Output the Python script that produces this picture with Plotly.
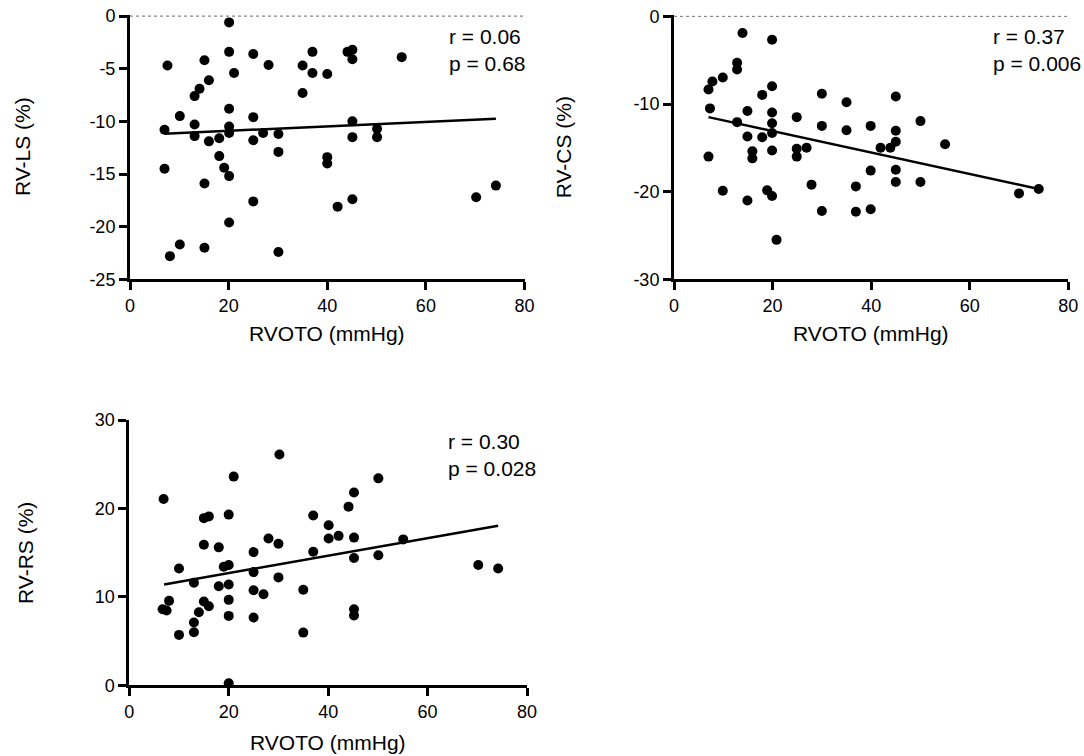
import plotly.graph_objects as go

# ---------------- data ----------------
ls_x = [7.6, 7.0, 7.0, 8.1, 10.1, 10.1, 13.1, 14.1, 13.1, 13.1, 15.1, 16.0, 15.1, 15.1, 16.0,
        18.1, 18.1, 19.1, 20.1, 20.1, 20.1, 20.1, 20.1, 20.1, 21.1, 20.1, 25.0, 25.0, 25.0, 25.0,
        27.0, 28.1, 30.1, 30.1, 30.1, 35.0, 35.0, 37.0, 37.0, 40.0, 40.0, 40.0, 42.1, 44.1, 45.1,
        45.1, 45.1, 45.1, 45.1, 50.1, 50.1, 55.1, 70.2, 74.2]
ls_y = [-4.7, -10.8, -14.5, -22.8, -9.5, -21.7, -7.6, -6.9, -10.3, -11.4, -4.2, -6.1, -15.9, -22.0, -11.9,
        -11.6, -13.3, -14.4, -15.2, -0.6, -3.4, -8.8, -10.5, -11.1, -5.4, -19.6, -3.6, -9.6, -11.8, -17.6,
        -11.1, -4.65, -11.2, -12.9, -22.4, -4.7, -7.3, -3.4, -5.4, -5.5, -13.4, -14.0, -18.1, -3.4, -3.2,
        -4.1, -10.0, -11.5, -17.4, -10.7, -11.5, -3.9, -17.2, -16.1]
ls_fit_x = [7.0, 74.2]
ls_fit_y = [-11.17, -9.75]

cs_x = [7.0, 7.8, 7.3, 7.0, 9.9, 9.9, 12.8, 12.8, 12.8, 13.9, 14.9, 14.9, 14.9, 15.9, 15.9,
        17.9, 17.9, 18.9, 19.9, 19.9, 19.9, 19.9, 19.9, 19.9, 19.9, 20.8, 24.9, 24.9, 24.9, 26.9,
        27.9, 30.0, 30.0, 30.0, 35.0, 35.0, 36.9, 36.9, 39.9, 39.9, 39.9, 41.9, 43.9, 45.0, 45.0,
        45.0, 45.0, 45.0, 50.0, 50.0, 55.0, 70.0, 74.0]
cs_y = [-8.35, -7.44, -10.5, -16.0, -6.98, -19.9, -5.3, -6.07, -12.07, -1.9, -10.8, -13.7, -21.0, -15.4, -16.2,
        -8.96, -13.8, -19.85, -2.66, -7.97, -10.97, -12.2, -13.3, -15.3, -20.5, -25.5, -11.5, -15.1, -16.0, -15.0,
        -19.2, -8.84, -12.5, -22.2, -9.8, -13.0, -19.4, -22.3, -12.5, -17.6, -22.0, -15.0, -15.0, -14.3, -9.15,
        -13.05, -17.5, -18.9, -11.95, -18.9, -14.6, -20.2, -19.7]
cs_fit_x = [7.0, 74.0]
cs_fit_y = [-11.5, -19.7]

rs_x = [6.9, 6.7, 7.5, 8.0, 10.0, 10.0, 13.0, 13.0, 13.0, 14.0, 15.0, 16.0, 15.0, 15.0, 16.0,
        18.0, 18.0, 19.0, 20.0, 20.0, 20.0, 20.0, 20.0, 20.0, 21.0, 25.0, 25.0, 25.0, 25.0, 27.0,
        28.0, 30.0, 30.0, 30.2, 35.0, 35.0, 37.0, 37.0, 40.1, 40.1, 42.1, 44.1, 45.2, 45.2, 45.2,
        45.2, 45.2, 50.1, 50.1, 55.1, 70.2, 74.2]
rs_y = [21.06, 8.6, 8.45, 9.55, 13.2, 5.7, 11.6, 7.1, 6.0, 8.26, 18.9, 19.1, 15.9, 9.47, 8.94,
        15.6, 11.2, 13.4, 13.6, 19.3, 11.4, 9.66, 7.85, 0.23, 23.6, 15.06, 12.8, 10.75, 7.66, 10.3,
        16.6, 16.0, 12.2, 26.1, 10.8, 5.96, 19.2, 15.1, 18.1, 16.6, 16.9, 20.2, 21.8, 16.7, 14.4,
        8.6, 7.9, 23.4, 14.7, 16.5, 13.6, 13.2]
rs_fit_x = [7.0, 74.2]
rs_fit_y = [11.4, 18.04]

x_ticks = [0, 20, 40, 60, 80]
ls_ticks = [0, -5, -10, -15, -20, -25]
cs_ticks = [0, -10, -20, -30]
rs_ticks = [0, 10, 20, 30]

stats = [("r = 0.06", "p = 0.68"), ("r = 0.37", "p = 0.006"), ("r = 0.30", "p = 0.028")]
y_titles = ["RV-LS (%)", "RV-CS (%)", "RV-RS (%)"]
x_title = "RVOTO (mmHg)"

# ---------------- figure ----------------
FONT = "Arial, Liberation Sans, sans-serif"
W, H = 1084, 756

fig = go.Figure()

panels = [
    dict(x=ls_x, y=ls_y, fx=ls_fit_x, fy=ls_fit_y, ticks=ls_ticks, rng=[-25, 0.12],
         xd=[130 / W, 524.5 / W], yd=[1 - 279.3 / H, 1 - 14.8 / H], zero=True,
         ytoff=108, xtoff=54),
    dict(x=cs_x, y=cs_y, fx=cs_fit_x, fy=cs_fit_y, ticks=cs_ticks, rng=[-30, 0.12],
         xd=[674 / W, 1068.3 / W], yd=[1 - 279.3 / H, 1 - 15.3 / H], zero=True,
         ytoff=111, xtoff=54),
    dict(x=rs_x, y=rs_y, fx=rs_fit_x, fy=rs_fit_y, ticks=rs_ticks, rng=[0, 30],
         xd=[129.3 / W, 527 / W], yd=[1 - 685.3 / H, 1 - 420 / H], zero=False,
         ytoff=104, xtoff=57),
]

annotations = []

for i, p in enumerate(panels):
    n = "" if i == 0 else str(i + 1)
    xa, ya = "x" + n, "y" + n
    if p["zero"]:
        fig.add_trace(go.Scatter(x=[0, 80], y=[0, 0], mode="lines", xaxis=xa, yaxis=ya,
                                 line=dict(color="#888888", width=1.2, dash="dot"),
                                 hoverinfo="skip"))
    fig.add_trace(go.Scatter(x=p["fx"], y=p["fy"], mode="lines", xaxis=xa, yaxis=ya,
                             line=dict(color="black", width=2.5)))
    fig.add_trace(go.Scatter(x=p["x"], y=p["y"], mode="markers", xaxis=xa, yaxis=ya,
                             marker=dict(color="black", size=10, line=dict(width=0)),
                             cliponaxis=False))
    fig.layout["xaxis" + n] = go.layout.XAxis(
        domain=p["xd"], anchor=ya, range=[0, 80], tickmode="array",
        tickvals=x_ticks, ticktext=[str(v) for v in x_ticks],
        showgrid=False, zeroline=False, showline=True, linecolor="#000000", linewidth=3,
        ticks="outside", ticklen=8, tickwidth=3, tickcolor="#000000",
        tickfont=dict(size=18, family=FONT, color="black"), layer="above traces",
    )
    fig.layout["yaxis" + n] = go.layout.YAxis(
        domain=p["yd"], anchor=xa, range=p["rng"], tickmode="array",
        tickvals=p["ticks"], ticktext=[str(v) for v in p["ticks"]],
        showgrid=False, zeroline=False, showline=True, linecolor="#000000", linewidth=3,
        ticks="outside", ticklen=8, tickwidth=3, tickcolor="#000000",
        tickfont=dict(size=18, family=FONT, color="black"), layer="above traces",
    )
    x0, x1 = p["xd"]
    y0, y1 = p["yd"]
    annotations.append(dict(text=x_title, xref="paper", yref="paper",
                            x=(x0 + x1) / 2, y=y0 - p["xtoff"] / H, xanchor="center", yanchor="middle",
                            showarrow=False, font=dict(size=21, family=FONT, color="black")))
    annotations.append(dict(text=y_titles[i], xref="paper", yref="paper",
                            x=x0 - p["ytoff"] / W, y=(y0 + y1) / 2, xanchor="center", yanchor="middle",
                            textangle=-90, showarrow=False,
                            font=dict(size=21, family=FONT, color="black")))
    annotations.append(dict(text=stats[i][0] + "<br>" + stats[i][1], xref="paper", yref="paper",
                            x=x0 + 317 / W, y=y1 - 8 / H,
                            xanchor="left", yanchor="top",
                            align="left", showarrow=False,
                            font=dict(size=21, family=FONT, color="black")))

fig.update_layout(
    width=W, height=H,
    margin=dict(l=0, r=0, t=0, b=0, autoexpand=False),
    paper_bgcolor="white", plot_bgcolor="rgba(0,0,0,0)",
    showlegend=False,
    font=dict(family=FONT, color="black"),
    annotations=annotations,
)

fig.write_html("out.html")
